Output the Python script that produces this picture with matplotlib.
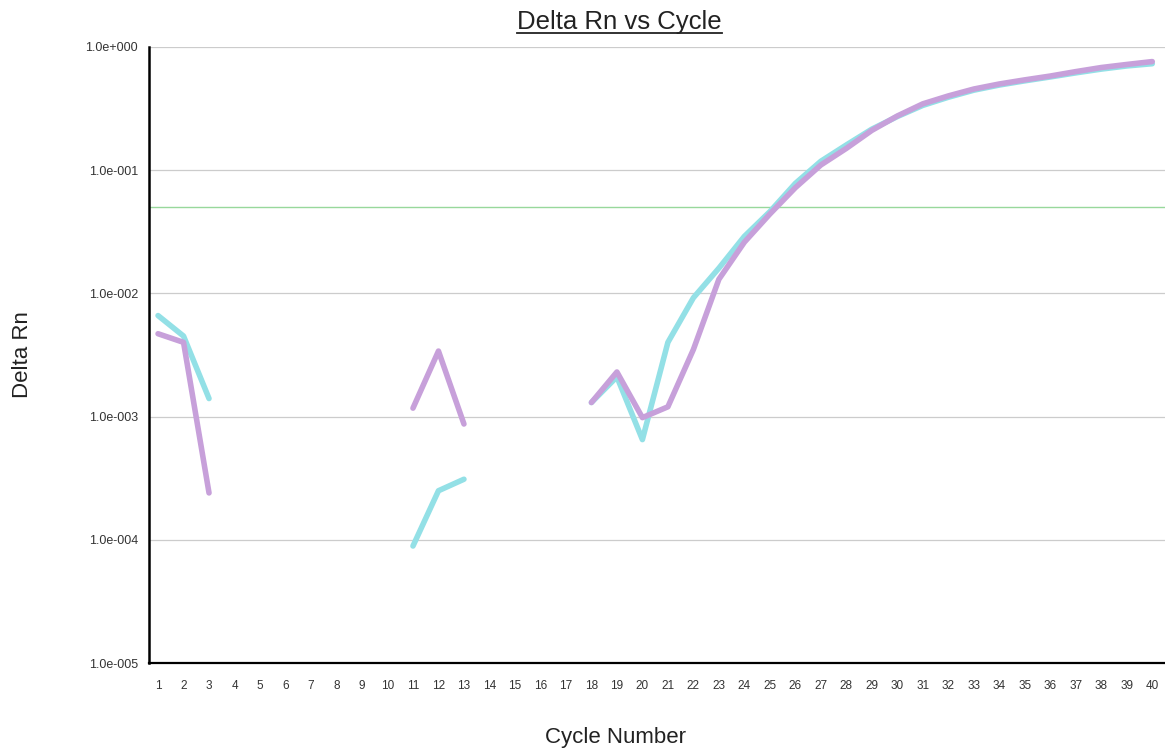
import numpy as np
import matplotlib.pyplot as plt
from matplotlib.lines import Line2D
from matplotlib.ticker import FixedLocator, FuncFormatter

plt.rcParams['font.family'] = ['Liberation Sans', 'DejaVu Sans']

# Cycle numbers and baseline-corrected fluorescence (nan = negative, not plotted on log axis)
cycles = np.arange(1, 41)
nan = np.nan
well_a = [6.6e-3, 4.5e-3, 1.4e-3, nan, nan, nan, nan, nan, nan, nan,
          8.9e-5, 2.5e-4, 3.1e-4, nan, nan, nan, nan, 1.3e-3, 2.1e-3, 6.5e-4,
          4.0e-3, 9.2e-3, 1.6e-2, 2.9e-2, 4.6e-2, 7.8e-2, 0.118, 0.16, 0.215, 0.272,
          0.335, 0.39, 0.445, 0.49, 0.53, 0.57, 0.615, 0.66, 0.70, 0.73]
well_b = [4.7e-3, 4.0e-3, 2.4e-4, nan, nan, nan, nan, nan, nan, nan,
          1.17e-3, 3.4e-3, 8.7e-4, nan, nan, nan, nan, 1.3e-3, 2.3e-3, 9.8e-4,
          1.2e-3, 3.5e-3, 1.3e-2, 2.6e-2, 4.4e-2, 7.2e-2, 0.11, 0.15, 0.21, 0.275,
          0.345, 0.40, 0.455, 0.50, 0.54, 0.58, 0.63, 0.68, 0.72, 0.76]
threshold = 0.05
decades = [1e-5, 1e-4, 1e-3, 1e-2, 1e-1, 1e0]

fig = plt.figure(figsize=(11.65, 7.56), dpi=100)
ax = fig.add_axes([0.128, 0.123, 0.872, 0.815])

for d in decades[1:]:
    ax.axhline(d, color='#cccccc', lw=0.9, zorder=1)
ax.axhline(threshold, color='#98d89c', lw=1.0, zorder=1)

ax.plot(cycles, well_a, color='#93e0e6', lw=4.0, solid_capstyle='round', zorder=2)
ax.plot(cycles, well_b, color='#c7a0da', lw=4.0, solid_capstyle='round', zorder=3)

ax.set_yscale('log')
ax.set_ylim(1e-5, 1e0)
ax.set_xlim(0.65, 40.5)
ax.yaxis.set_major_locator(FixedLocator(decades))
ax.yaxis.set_minor_locator(FixedLocator([]))
ax.yaxis.set_major_formatter(FuncFormatter(
    lambda v, p: '1.0e%s%03d' % ('+' if v >= 1 else '-', abs(int(round(np.log10(v)))))))
ax.set_xticks(cycles)
ax.tick_params(axis='both', length=0, colors='#333333')
ax.tick_params(axis='x', pad=12, labelsize=8.5)
ax.tick_params(axis='y', pad=8, labelsize=9)

for s in ['top', 'right']:
    ax.spines[s].set_visible(False)
ax.spines['left'].set_linewidth(1.8)
ax.spines['bottom'].set_linewidth(1.6)

# underlined title
title = fig.text(0.532, 0.962, 'Delta Rn vs Cycle', fontsize=18.5, color='#222222',
                 ha='center', va='baseline')
fig.canvas.draw()
bb = title.get_window_extent().transformed(fig.transFigure.inverted())
fig.add_artist(Line2D([bb.x0, bb.x1], [bb.y0 + 0.001, bb.y0 + 0.001],
                      transform=fig.transFigure, color='#222222', lw=1.3))

ax.set_xlabel('Cycle Number', fontsize=16, color='#222222')
ax.set_ylabel('Delta Rn', fontsize=16, color='#222222')
ax.xaxis.set_label_coords(0.459, -0.104)
ax.yaxis.set_label_coords(-0.114, 0.5)

fig.savefig('out.png', dpi=100)
